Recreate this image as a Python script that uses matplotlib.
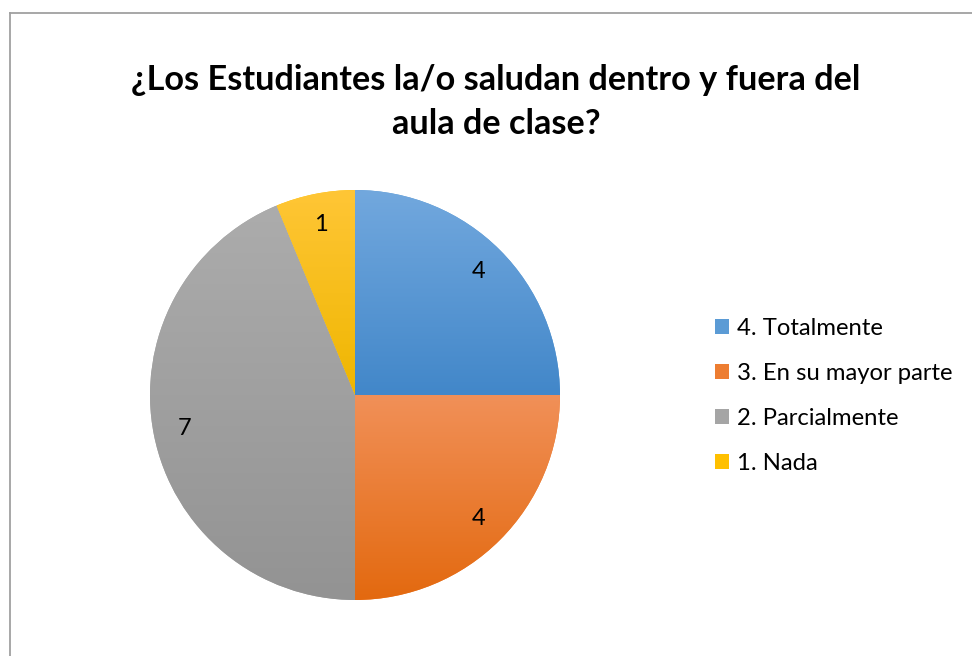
import numpy as np
import matplotlib
matplotlib.use("Agg")
import matplotlib.pyplot as plt
from matplotlib.colors import LinearSegmentedColormap
from matplotlib.lines import Line2D
from matplotlib.patches import Patch

TITLE = "¿Los Estudiantes la/o saludan dentro y fuera del\naula de clase?"
categories = ["4. Totalmente", "3. En su mayor parte", "2. Parcialmente", "1. Nada"]
values = [4, 4, 7, 1]
tops = ["#72a8de", "#f19058", "#acacac", "#ffc636"]
bottoms = ["#4287c9", "#e3690f", "#939393", "#efb600"]
solid = ["#5b9bd5", "#ed7d31", "#a5a5a5", "#ffc000"]

plt.rcParams["font.family"] = ["Lato", "DejaVu Sans"]

fig = plt.figure(figsize=(9.72, 6.56), dpi=100, facecolor="white")

# chart border (left and top edges visible in the source crop)
fig.add_artist(Line2D([9.5 / 972, 9.5 / 972], [0, 1 - 12.5 / 656], color="#a0a0a0", lw=1.3,
                      transform=fig.transFigure))
fig.add_artist(Line2D([9.5 / 972, 1], [1 - 12.5 / 656, 1 - 12.5 / 656], color="#a0a0a0", lw=1.3,
                      transform=fig.transFigure))

fig.text(496 / 972, 1 - 102 / 656, TITLE, ha="center", va="center", fontsize=24.7,
         fontweight="bold", color="#000000", linespacing=1.5)

ax = fig.add_axes([150 / 972, 56 / 656, 410 / 972, 410 / 656])
wedges, texts = ax.pie(values, startangle=90, counterclock=False, colors=solid,
                       labels=[str(v) for v in values], labeldistance=0.85,
                       textprops=dict(fontsize=17, color="#000000"),
                       wedgeprops=dict(linewidth=0))
for t in texts:
    t.set_ha("center")
    t.set_va("center")
    t.set_zorder(5)

# vertical gradient fill inside each wedge
for w, c0, c1 in zip(wedges, tops, bottoms):
    ext = w.get_path().get_extents()
    cmap = LinearSegmentedColormap.from_list("g", [c1, c0])
    grad = np.linspace(0, 1, 256).reshape(-1, 1)
    im = ax.imshow(grad, cmap=cmap, origin="lower", aspect="auto",
                   extent=[ext.x0, ext.x1, ext.y0, ext.y1], zorder=w.get_zorder() + 0.1)
    im.set_clip_path(w)
ax.set_xlim(-1, 1)
ax.set_ylim(-1, 1)
ax.set_aspect("equal")
ax.axis("off")

handles = [Patch(facecolor=c, edgecolor="none") for c in solid]
fig.legend(handles, categories, loc="center left", bbox_to_anchor=(715 / 972, 1 - 396 / 656),
           frameon=False, fontsize=17.2, handlelength=0.6, handleheight=0.6,
           handletextpad=0.3, labelspacing=1.0, borderpad=0, borderaxespad=0)

fig.savefig("out.png", dpi=100, facecolor="white")
